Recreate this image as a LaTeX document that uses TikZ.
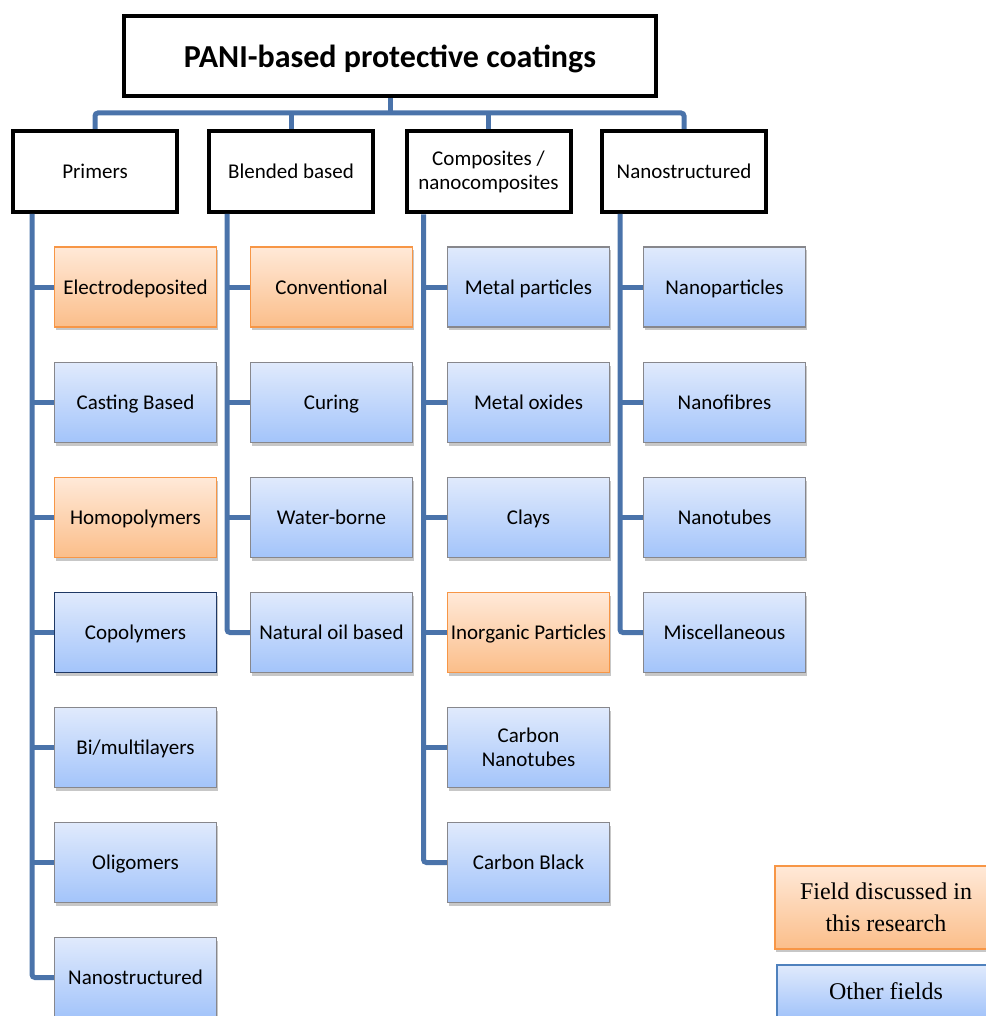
\documentclass[tikz,border=0pt]{standalone}
\usepackage{fontspec}
\setmainfont{Carlito}
\newfontfamily\keyfont{Liberation Serif}
\usetikzlibrary{shadows, positioning, calc}
\definecolor{colTree}{RGB}{74,115,170}
\definecolor{colOrTop}{RGB}{255,233,216}
\definecolor{colOrBot}{RGB}{251,190,138}
\definecolor{colOrLine}{RGB}{247,150,70}
\definecolor{colBlTop}{RGB}{224,234,252}
\definecolor{colBlBot}{RGB}{163,196,250}
\definecolor{colBlLine}{RGB}{135,135,140}
\definecolor{colNavy}{RGB}{31,56,100}
\definecolor{colKeyLine}{RGB}{79,129,189}
\tikzset{
  % heading boxes
  headBox/.style={
    rectangle, draw=black, line width=4pt, fill=white,
    align=center, inner sep=2pt,
    font=\fontsize{21}{24}\selectfont,
    text height=17pt, text depth=2.5pt,
    minimum width=164pt, minimum height=81pt,
  },
  % leaf boxes
  leaf/.style={
    rectangle, line width=1.2pt, align=center, inner sep=2pt,
    font=\fontsize{21}{23.5}\selectfont,
    text height=17pt, text depth=2.5pt,
    minimum width=162pt, minimum height=80pt,
    drop shadow={shadow xshift=1pt, shadow yshift=-3pt,
                 fill=black, opacity=0.22},
  },
  % boxes holding two lines size themselves
  twoLine/.style={text height={}, text depth={}},
  lOrange/.style={leaf, draw=colOrLine, top color=colOrTop, bottom color=colOrBot},
  lBlue/.style  ={leaf, draw=colBlLine, top color=colBlTop, bottom color=colBlBot},
  % connectors
  tree/.style={draw=colTree, line width=5pt, rounded corners=3pt},
}

\begin{document}
\begin{tikzpicture}[x=1pt, y=-1pt]
\useasboundingbox (0,0) rectangle (985,1016);

% ── Root and categories ─────────────────────────────────────────────
\node[headBox, line width=4.5pt, minimum width=532pt, minimum height=80pt,
      text height=27pt, text depth=4pt,
      font=\fontsize{32}{35}\selectfont\bfseries] (root) at (390,56)
  {PANI-based protective coatings};

\node[headBox] (prim)  at (95,171.5)  {Primers};
\node[headBox] (blend) at (291,171.5) {Blended based};
\node[headBox, twoLine] (comp)  at (488.5,172) {Composites /\\nanocomposites};
\node[headBox] (nano)  at (684,171.5) {Nanostructured};

% ── Primers column ─────────────────────────────────────────────────
\node[lOrange] (p1) at (135.5,287)   {Electrodeposited};
\node[lBlue]   (p2) at (135.5,402.5) {Casting Based};
\node[lOrange] (p3) at (135.5,517.5) {Homopolymers};
\node[lBlue, draw=colNavy] (p4) at (135.5,632.5) {Copolymers};
\node[lBlue]   (p5) at (135.5,747.5) {Bi/multilayers};
\node[lBlue]   (p6) at (135.5,862.5) {Oligomers};
\node[lBlue]   (p7) at (135.5,977.5) {Nanostructured};

% ── Blended column ─────────────────────────────────────────────────
\node[lOrange] (b1) at (331.5,287)   {Conventional};
\node[lBlue]   (b2) at (331.5,402.5) {Curing};
\node[lBlue]   (b3) at (331.5,517.5) {Water-borne};
\node[lBlue]   (b4) at (331.5,632.5) {Natural oil based};

% ── Composites column ──────────────────────────────────────────────
\node[lBlue]   (c1) at (528.5,287)   {Metal particles};
\node[lBlue]   (c2) at (528.5,402.5) {Metal oxides};
\node[lBlue]   (c3) at (528.5,517.5) {Clays};
\node[lOrange] (c4) at (528.5,632.5) {Inorganic Particles};
\node[lBlue, twoLine] (c5) at (528.5,747.5) {Carbon\\Nanotubes};
\node[lBlue]   (c6) at (528.5,862.5) {Carbon Black};

% ── Nanostructured column ──────────────────────────────────────────
\node[lBlue]   (n1) at (724.5,287)   {Nanoparticles};
\node[lBlue]   (n2) at (724.5,402.5) {Nanofibres};
\node[lBlue]   (n3) at (724.5,517.5) {Nanotubes};
\node[lBlue]   (n4) at (724.5,632.5) {Miscellaneous};

% ── Connectors ─────────────────────────────────────────────────────
\coordinate (bus) at (390,113);
\draw[tree] (prim.north) |- (bus) -| (nano.north);
\draw[tree] (root.south) -- (bus);
\draw[tree] (blend.north) -- (blend.north |- bus);
\draw[tree] (comp.north) -- (comp.north |- bus);

\draw[tree] ([xshift=21pt]prim.south west)  |- (p7.west);
\draw[tree] ([xshift=20pt]blend.south west) |- (b4.west);
\draw[tree] ([xshift=19pt]comp.south west)  |- (c6.west);
\draw[tree] ([xshift=20pt]nano.south west)  |- (n4.west);
\foreach \leafname in {p1,p2,p3,p4,p5,p6,b1,b2,b3,c1,c2,c3,c4,c5,n1,n2,n3}
  \draw[tree] (\leafname.west) -- ++(-22,0);

% ── Key ────────────────────────────────────────────────────────────
\node[lOrange, twoLine, minimum width=222pt, minimum height=83pt,
      font=\keyfont\fontsize{24}{32}\selectfont] (keyOr) at (886,907.5)
  {Field discussed in\\this research};
\node[lBlue, twoLine, draw=colKeyLine, minimum width=218pt, minimum height=52pt,
      font=\keyfont\fontsize{24}{32}\selectfont] (keyBl) at (886,991)
  {Other fields};

\end{tikzpicture}
\end{document}
